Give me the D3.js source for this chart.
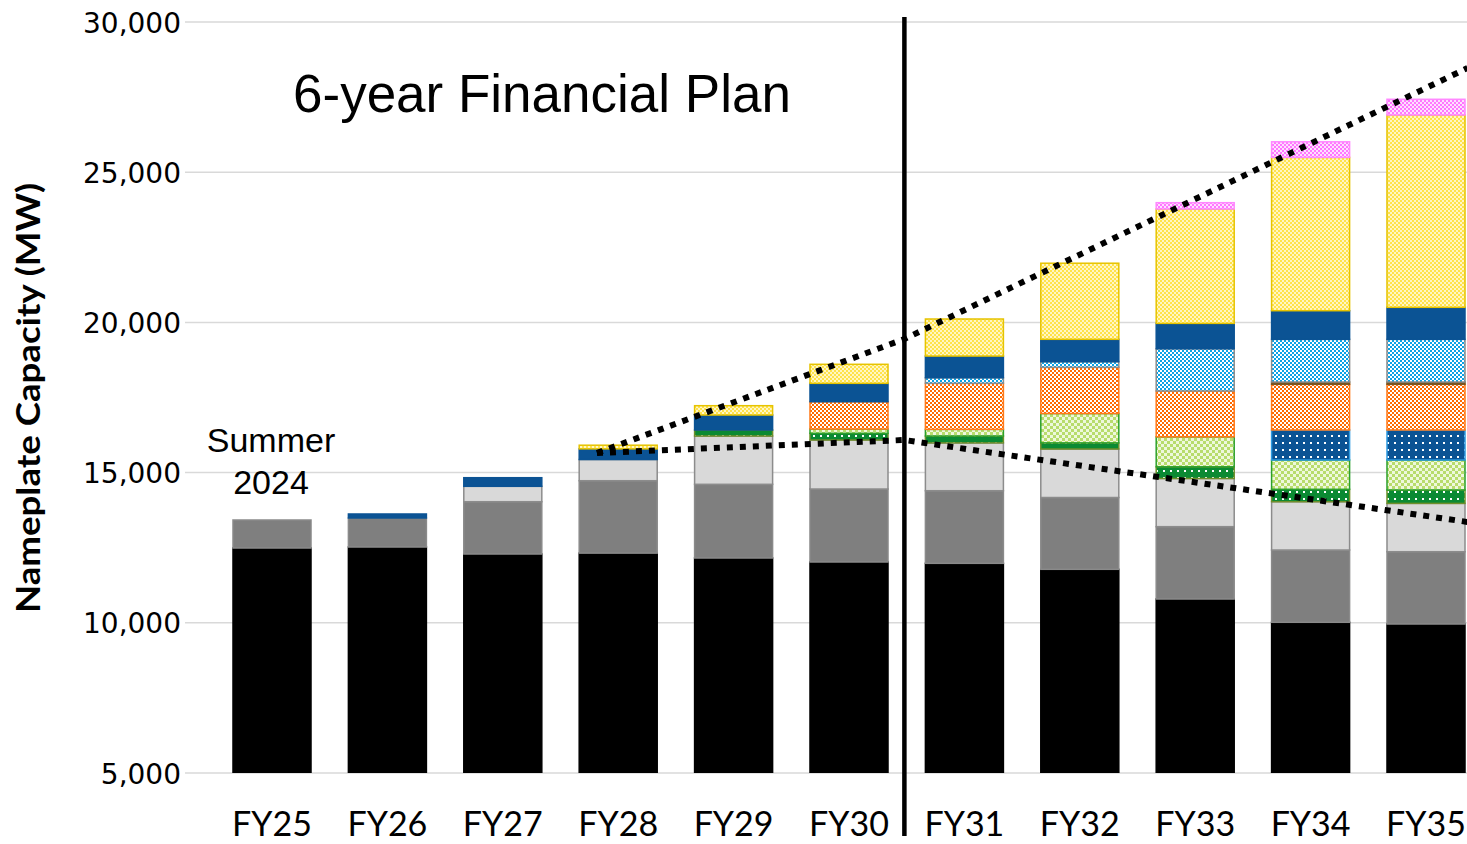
<!DOCTYPE html>
<html>
<head>
<meta charset="utf-8">
<script src="https://cdn.jsdelivr.net/npm/d3@7"></script>
<style>
  body { margin: 0; background: #fff; }
  svg { display: block; }
</style>
</head>
<body>
<svg></svg>
<script>
var width = 1467;
var height = 844;

// fiscal years
var categories = ["FY25", "FY26", "FY27", "FY28", "FY29", "FY30", "FY31", "FY32", "FY33", "FY34", "FY35"];

// stacked series, bottom to top (MW)
var existingBase  = [12490, 12523, 12290, 12320, 12157, 12024, 11980, 11781, 10792, 10017, 9960];
var existingOther = [932, 966, 1741, 2410, 2453, 2430, 2417, 2390, 2408, 2406, 2406];
var planned       = [0, 0, 513, 706, 1608, 1631, 1592, 1615, 1604, 1608, 1609];
var greenDots     = [0, 0, 0, 0, 200, 223, 229, 203, 389, 413, 446];
var greenCheck    = [0, 0, 0, 0, 0, 143, 222, 978, 998, 975, 998];
var blueDots      = [0, 0, 0, 0, 0, 0, 0, 0, 0, 999, 999];
var orangeCheck   = [0, 0, 0, 0, 0, 909, 1532, 1537, 1525, 1521, 1521];
var brownThin     = [0, 0, 0, 0, 0, 0, 0, 0, 0, 77, 77];
var blueCheck     = [0, 0, 0, 0, 0, 0, 186, 188, 1408, 1421, 1421];
var blueSolid     = [0, 133, 286, 354, 499, 612, 722, 745, 844, 952, 1065];
var yellowCheck   = [0, 0, 0, 122, 310, 633, 1233, 2533, 3807, 5104, 6402];
var pinkDots      = [0, 0, 0, 0, 0, 0, 0, 0, 210, 519, 523];

var yTicks = [5000, 10000, 15000, 20000, 25000, 30000];

// dotted trend lines: [category position, MW]
var trendUpper = [[2.816, 15652], [5.48, 19448], [10.36, 28469]];
var trendLower = [[2.816, 15652], [5.48, 16085], [10.36, 13356]];
var planSplit = 5.48;

var seriesList = [
  {key: "existingBase", values: existingBase, fill: "#000000", stroke: "#000000"},
  {key: "existingOther", values: existingOther, fill: "#7f7f7f", stroke: "#8a8a8a"},
  {key: "planned", values: planned, fill: "#d9d9d9", stroke: "#8c8c8c"},
  {key: "greenDots", values: greenDots, fill: "url(#greenDots)", stroke: "#6f8f2a"},
  {key: "greenCheck", values: greenCheck, fill: "url(#greenCheck)", stroke: "#2ca02c"},
  {key: "blueDots", values: blueDots, fill: "url(#blueDots)", stroke: "#2e9ae0"},
  {key: "orangeCheck", values: orangeCheck, fill: "url(#orangeCheck)", stroke: "#ff7a1a"},
  {key: "brownThin", values: brownThin, fill: "#7a5520", stroke: "#7a5520"},
  {key: "blueCheck", values: blueCheck, fill: "url(#blueCheck)", stroke: "#8c8c8c"},
  {key: "blueSolid", values: blueSolid, fill: "#0b5394", stroke: "#0b5394"},
  {key: "yellowCheck", values: yellowCheck, fill: "url(#yellowCheck)", stroke: "#e6c300"},
  {key: "pinkDots", values: pinkDots, fill: "url(#pinkDots)", stroke: "#ff88ff"}
];

var table = categories.map(function (c, i) {
  var row = {cat: c};
  seriesList.forEach(function (s) { row[s.key] = s.values[i]; });
  return row;
});

var svg = d3.select("svg").attr("width", width).attr("height", height);
var defs = svg.append("defs");

function checker(id, color, bg, size) {
  var p = defs.append("pattern").attr("id", id)
    .attr("patternUnits", "userSpaceOnUse")
    .attr("width", size * 2).attr("height", size * 2);
  p.append("rect").attr("width", size * 2).attr("height", size * 2).attr("fill", bg);
  p.append("rect").attr("width", size).attr("height", size).attr("fill", color);
  p.append("rect").attr("x", size).attr("y", size).attr("width", size).attr("height", size).attr("fill", color);
}
function dots(id, bg, dot, w, h, ds) {
  var p = defs.append("pattern").attr("id", id)
    .attr("patternUnits", "userSpaceOnUse")
    .attr("width", w).attr("height", h);
  p.append("rect").attr("width", w).attr("height", h).attr("fill", bg);
  p.append("rect").attr("x", 1).attr("y", 1).attr("width", ds).attr("height", ds).attr("fill", dot);
}
checker("yellowCheck", "#ffe24a", "#fff6c4", 2);
checker("orangeCheck", "#ff6a00", "#ffffff", 2);
checker("blueCheck", "#0aa2e6", "#ffffff", 2);
checker("greenCheck", "#b8dc6c", "#eef8dc", 3);
dots("greenDots", "#0b8a33", "#ffffff", 7, 7, 2);
dots("blueDots", "#0b5394", "#ffffff", 7, 7, 2);
checker("pinkDots", "#ff77ff", "#ffe0ff", 2);

var x = d3.scaleBand().domain(categories).range([214.3, 1483.7])
  .paddingInner(0.324).paddingOuter(0.162);
var y = d3.scaleLinear().domain([5000, 30000]).range([773, 22]);

function xPos(i) {
  return x(categories[0]) + x.bandwidth() / 2 + i * x.step();
}

defs.append("clipPath").attr("id", "plotClip")
  .append("rect").attr("x", 0).attr("y", 0).attr("width", width).attr("height", y(5000));

// gridlines + y labels
var yAxis = d3.axisLeft(y).tickValues(yTicks).tickSize(0).tickPadding(0)
  .tickFormat(d3.format(","));
var ga = svg.append("g").attr("transform", "translate(181,0)").call(yAxis);
ga.select(".domain").remove();
ga.selectAll("text")
  .style("font-family", "'DejaVu Sans', Verdana, sans-serif")
  .style("font-size", "28px").attr("fill", "#000").attr("dy", "0.36em");

svg.append("g").selectAll("line").data(yTicks).enter().append("line")
  .attr("x1", 185).attr("x2", width)
  .attr("y1", function (d) { return y(d); }).attr("y2", function (d) { return y(d); })
  .attr("stroke", "#d9d9d9").attr("stroke-width", 1.5);

// stacked bars
var stack = d3.stack().keys(seriesList.map(function (s) { return s.key; }));
var stacked = stack(table);

var bars = svg.append("g").attr("clip-path", "url(#plotClip)");
stacked.forEach(function (layer, li) {
  var s = seriesList[li];
  bars.append("g").selectAll("rect")
    .data(layer.filter(function (d) { return d[1] - d[0] > 0; }))
    .enter().append("rect")
    .attr("x", function (d) { return x(d.data.cat); })
    .attr("width", x.bandwidth())
    .attr("y", function (d) { return y(d[1]); })
    .attr("height", function (d) { return Math.max(0, y(d[0]) - y(d[1])); })
    .attr("fill", s.fill)
    .attr("stroke", s.stroke)
    .attr("stroke-width", 1.5);
});

// x labels
svg.append("g").selectAll("text").data(categories).enter().append("text")
  .attr("x", function (d) { return x(d) + x.bandwidth() / 2; })
  .attr("y", 836)
  .attr("text-anchor", "middle")
  .style("font-family", "Lato, 'Open Sans', sans-serif")
  .style("font-size", "34px")
  .text(function (d) { return d; });

// plan split line
svg.append("line")
  .attr("x1", xPos(planSplit)).attr("x2", xPos(planSplit))
  .attr("y1", 17).attr("y2", 836)
  .attr("stroke", "#000").attr("stroke-width", 4.5);

// trend lines
var line = d3.line()
  .x(function (d) { return xPos(d[0]); })
  .y(function (d) { return y(d[1]); });
[trendUpper, trendLower].forEach(function (t) {
  svg.append("path").datum(t).attr("d", line)
    .attr("fill", "none").attr("stroke", "#000")
    .attr("stroke-width", 6).attr("stroke-dasharray", "6 7");
});

// annotations
svg.append("text").attr("x", 293).attr("y", 112)
  .style("font-family", "'Liberation Sans', Arial, sans-serif")
  .style("font-size", "53px")
  .text("6-year Financial Plan");

var summer = svg.append("text")
  .attr("text-anchor", "middle")
  .style("font-family", "'Liberation Sans', Arial, sans-serif")
  .style("font-size", "34px");
summer.append("tspan").attr("x", 271).attr("y", 452).text("Summer");
summer.append("tspan").attr("x", 271).attr("y", 494).text("2024");

svg.append("text")
  .attr("transform", "translate(40,398) rotate(-90)")
  .attr("text-anchor", "middle")
  .attr("textLength", 430).attr("lengthAdjust", "spacingAndGlyphs")
  .style("font-family", "Lato, 'Open Sans', sans-serif")
  .style("font-weight", "bold")
  .style("font-size", "32px")
  .text("Nameplate Capacity (MW)");
</script>
</body>
</html>
